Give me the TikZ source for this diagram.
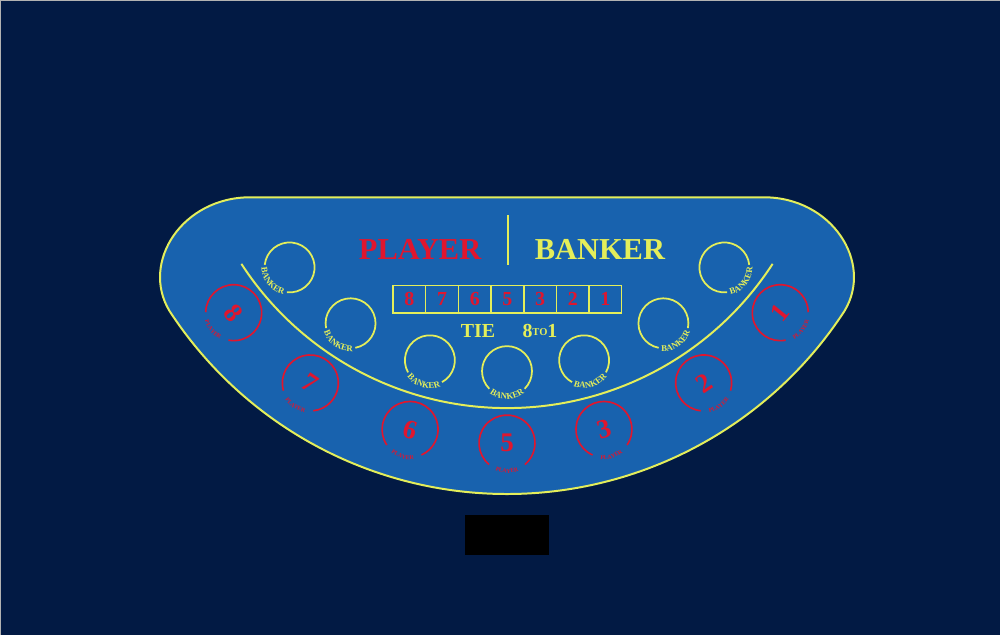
\documentclass[tikz,border=0pt]{standalone}
\usepackage{fontspec}
\setmainfont{Liberation Serif}
\newfontfamily\tablefont{Liberation Serif Bold}
\usetikzlibrary{calc,positioning,decorations.text}
\definecolor{FeltNavy}{HTML}{021A44}
\definecolor{FeltBlue}{HTML}{1862AE}
\definecolor{RimYellow}{HTML}{E4EE5A}
\definecolor{ChipRed}{HTML}{E0162E}

\begin{document}
\begin{tikzpicture}[x=0.3mm,y=-0.3mm,
 rim/.style={draw=RimYellow,line width=1.7pt},
 bet/.style={font=\tablefont\fontsize{26}{26}\selectfont,inner sep=0pt},
 tiebox/.style={draw=RimYellow,line width=1.2pt,minimum width=9.8mm,minimum height=8.4mm,
                inner sep=0pt,outer sep=0pt,text=ChipRed,font=\tablefont\fontsize{17}{17}\selectfont},
 chip/.style={text=ChipRed,font=\tablefont\fontsize{23}{23}\selectfont,inner sep=0pt}]
\fill[FeltNavy] (0,0) rectangle (1000,635);
\draw[gray!60,line width=0.8pt] (0,635) -- (0,0) -- (1000,0);
\coordinate (hub) at (507,91);
% table
\draw[rim,fill=FeltBlue] (250,197) -- (764,197)
  .. controls (832,197) and (874,262) .. ($(hub)+(33:403)$)
  arc[start angle=33,end angle=147,radius=403]
  .. controls (140,262) and (182,197) .. cycle;
\draw[rim] ($(hub)+(147:317)$) arc[start angle=147,end angle=33,radius=317];
% main bets
\node[bet,text=ChipRed] (player) at (420,249) {PLAYER};
\node[bet,text=RimYellow] (banker) at (600,249) {BANKER};
\coordinate (split top) at (508,215);
\coordinate (split bot) at (508,265);
\draw[rim] (split top) -- (split bot);
% tie
\foreach \d [count=\i] in {8,7,6,5,3,2,1}
  \node[tiebox] (t\d) at ({393+32.7*(\i-0.5)},299) {\d};
\node[text=RimYellow,font=\tablefont\fontsize{17}{17}\selectfont] (tie) at (478,331) {TIE};
\node[text=RimYellow,font=\tablefont\fontsize{17}{17}\selectfont] (odds) at (540,331)
  {8\raisebox{1.5pt}{\fontsize{9}{9}\selectfont TO}1};
% seats
\foreach \a/\n in {141/8,124/7,106/6,90/5,74/3,56/2,39/1} {
  \coordinate (b\n) at ($(hub)+(\a:280)$);
  \coordinate (p\n) at ($(hub)+(\a:352)$);
  \draw[RimYellow,line width=1.5pt] (b\n) ++(\a+45:25) arc[start angle=\a+45,end angle=\a+315,radius=25];
  \path[decorate,decoration={text along path,text align=center,text color=RimYellow,
        text={|\tablefont\fontsize{7.5}{8}\selectfont|BANKER}}]
    (b\n) ++(\a+50:28) arc[start angle=\a+50,end angle=\a-50,radius=28];
  \draw[ChipRed,line width=1.4pt] (p\n) ++(\a+40:28) arc[start angle=\a+40,end angle=\a+320,radius=28];
  \path[decorate,decoration={text along path,text align=center,text color=ChipRed,
        text={|\tablefont\fontsize{5}{5}\selectfont|PLAYER}}]
    (p\n) ++(\a+50:30) arc[start angle=\a+50,end angle=\a-50,radius=30];
  \node[chip,rotate=90-\a] (n\n) at (p\n) {\n};
}
% dealer slot
\fill[black] (465,515) rectangle (549,555);
\end{tikzpicture}
\end{document}
